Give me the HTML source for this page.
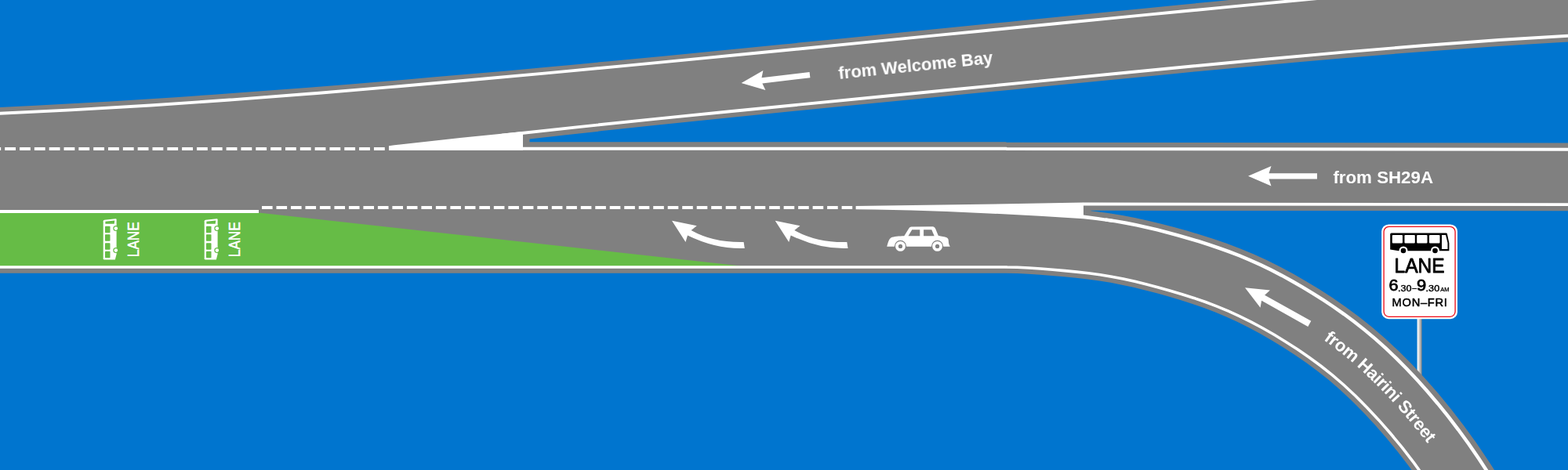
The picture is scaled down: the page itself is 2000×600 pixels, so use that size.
<!DOCTYPE html>
<html lang="en">
<head>
<meta charset="utf-8">
<title>Bus lane merge diagram</title>
<style>
html,body{margin:0;padding:0;background:#0075cf;}
body{width:2000px;height:600px;overflow:hidden;}
svg{display:block;}
</style>
</head>
<body>
<svg width="2000" height="600" viewBox="0 0 2000 600">
<rect x="0" y="0" width="2000" height="600" fill="#0075cf"/>
<path d="M-10 137.42C23.67 135.85 57.33 134.12 91 132.24C124.67 130.35 158.33 128.33 192 126.17C225.67 124.01 259.33 121.71 293 119.3C326.67 116.89 360.33 114.36 394 111.73C427.67 109.1 461.33 106.36 495 103.54C528.67 100.72 562.33 97.81 596 94.82C629.67 91.84 663.33 88.78 697 85.66C730.67 82.55 764.33 79.37 798 76.15C831.67 72.93 865.33 69.67 899 66.38C932.67 63.08 966.33 59.76 1000 56.42C1033.67 53.08 1067.33 49.73 1101 46.38C1134.67 43.03 1168.33 39.68 1202 36.33C1235.67 32.98 1269.33 29.63 1303 26.28C1336.67 22.93 1370.33 19.59 1404 16.24C1437.67 12.9 1471.33 9.56 1505 6.23C1538.67 2.9 1572.33 -0.43 1606 -3.76C1639.67 -7.08 1673.33 -10.4 1707 -13.71C1740.67 -17.02 1774.33 -20.32 1808 -23.62C1841.67 -26.91 1875.33 -30.2 1909 -33.48C1942.67 -36.75 1976.33 -40.02 2010 -43.28L2010 52.82C1975.78 54.7 1941.56 56.82 1907.35 59.14C1873.13 61.46 1838.91 63.98 1804.69 66.66C1770.47 69.35 1736.26 72.19 1702.04 75.16C1667.82 78.13 1633.6 81.23 1599.38 84.41C1565.17 87.59 1530.95 90.86 1496.73 94.19C1462.51 97.51 1428.29 100.88 1394.08 104.26C1359.86 107.65 1325.64 111.04 1291.42 114.41C1257.21 117.79 1222.99 121.14 1188.77 124.49C1154.55 127.85 1120.33 131.2 1086.12 134.58C1051.9 137.96 1017.68 141.35 983.46 144.79C949.24 148.23 915.03 151.72 880.81 155.26C846.59 158.81 812.37 162.41 778.15 166.11C743.94 169.8 709.72 173.57 675.5 177.45V183.3H-10Z" fill="#808080"/>
<path d="M-10 181.3H1283.5V181.75L2010 182.56V269.3L1391.5 268.8V276H1283V348.8H-10Z" fill="#808080"/>
<defs><linearGradient id="pg" x1="0" x2="1" y1="0" y2="0"><stop offset="0" stop-color="#ffffff"/><stop offset="0.25" stop-color="#ececec"/><stop offset="1" stop-color="#858585"/></linearGradient></defs>
<rect x="1807.6" y="400" width="6" height="90" fill="url(#pg)"/>
<path d="M1283 261.6 L1300.09 261.88 L1316.87 262.64 L1333.34 263.74 L1349.51 265.05 L1365.51 266.48 L1381.74 268.09 L1398.22 269.98 L1414.92 272.24 L1431.84 274.99 L1448.71 278.23 L1465.44 281.88 L1482.02 285.91 L1498.47 290.24 L1514.79 294.82 L1531.2 299.71 L1547.8 305 L1564.58 310.81 L1581.52 317.21 L1598.59 324.31 L1615.65 332.12 L1632.59 340.56 L1649.42 349.6 L1666.15 359.21 L1682.79 369.36 L1699.45 380.12 L1716.27 391.69 L1733.21 404.18 L1750.22 417.74 L1767.24 432.45 L1784.13 448.24 L1800.88 465.07 L1817.52 482.93 L1834.08 501.84 L1850.63 521.95 L1867.17 543.38 L1883.67 566.24 L1900.13 590.64 L1916.55 616.69 L1932.9 644.49 L1857.1 687.59 L1842.07 662.04 L1827.1 638.28 L1812.17 616.17 L1797.3 595.56 L1782.45 576.31 L1767.62 558.29 L1752.79 541.36 L1738.04 525.53 L1723.41 510.83 L1708.92 497.28 L1694.55 484.86 L1680.18 473.41 L1665.73 462.74 L1651.16 452.73 L1636.44 443.23 L1621.69 434.22 L1607.04 425.8 L1592.48 417.98 L1578.04 410.79 L1563.71 404.23 L1549.41 398.29 L1534.96 392.82 L1520.36 387.77 L1505.57 383.06 L1490.6 378.6 L1475.53 374.37 L1460.6 370.43 L1445.79 366.84 L1431.13 363.64 L1416.62 360.85 L1402.15 358.5 L1387.48 356.51 L1372.56 354.81 L1357.41 353.3 L1342.03 351.93 L1326.81 350.69 L1311.9 349.7 L1297.29 349.04 L1283 348.8Z" fill="#808080"/>
<polygon points="0,270 330,270 330,271.6 958.3,341 0,341" fill="#66bc46"/>
<g fill="none" stroke="#ffffff" stroke-width="3.9">
<path d="M-10 145.16C23.67 143.8 57.33 142.21 91 140.42C124.67 138.63 158.33 136.63 192 134.48C225.67 132.32 259.33 130 293 127.54C326.67 125.08 360.33 122.49 394 119.8C427.67 117.1 461.33 114.3 495 111.41C528.67 108.53 562.33 105.56 596 102.54C629.67 99.52 663.33 96.45 697 93.33C730.67 90.2 764.33 87.04 798 83.84C831.67 80.64 865.33 77.4 899 74.15C932.67 70.89 966.33 67.6 1000 64.3C1033.67 61.01 1067.33 57.69 1101 54.37C1134.67 51.06 1168.33 47.73 1202 44.42C1235.67 41.1 1269.33 37.78 1303 34.47C1336.67 31.16 1370.33 27.86 1404 24.58C1437.67 21.3 1471.33 18.03 1505 14.79C1538.67 11.54 1572.33 8.32 1606 5.11C1639.67 1.9 1673.33 -1.31 1707 -4.52C1740.67 -7.73 1774.33 -10.95 1808 -14.19C1841.67 -17.43 1875.33 -20.68 1909 -23.97C1942.67 -27.27 1976.33 -30.59 2010 -33.96"/>
<path d="M640 172.79C672.62 169.13 705.24 165.57 737.86 162.09C770.48 158.61 803.1 155.22 835.71 151.88C868.33 148.55 900.95 145.27 933.57 142.02C966.19 138.77 998.81 135.56 1031.43 132.36C1064.05 129.15 1096.67 125.96 1129.29 122.78C1161.9 119.6 1194.52 116.41 1227.14 113.23C1259.76 110.04 1292.38 106.85 1325 103.65C1357.62 100.44 1390.24 97.23 1422.86 94.04C1455.48 90.85 1488.1 87.67 1520.71 84.53C1553.33 81.4 1585.95 78.3 1618.57 75.27C1651.19 72.24 1683.81 69.28 1716.43 66.43C1749.05 63.58 1781.67 60.85 1814.29 58.27C1846.9 55.69 1879.52 53.27 1912.14 51.06C1944.76 48.84 1977.38 46.83 2010 45.06"/>
<path d="M496 189.75H1283.5L1284 189.95L2010 190.75"/>
<path d="M-10 189.9H494" stroke-dasharray="13.8 5.03" stroke-dashoffset="2.63" stroke-width="4"/>
<path d="M-10 270H330" stroke-width="4"/>
<path d="M334 265.1H1088" stroke-dasharray="13.6 4.89" stroke-width="4"/>
<path d="M1381.8 260.5L2010 261.15"/>
<path d="M-10 341H1283L1283 341.05 L1297.54 341.29 L1312.34 341.96 L1327.39 342.97 L1342.7 344.21 L1358.13 345.59 L1373.38 347.1 L1388.43 348.82 L1403.29 350.84 L1417.97 353.22 L1432.7 356.04 L1447.54 359.29 L1462.5 362.92 L1477.57 366.89 L1492.75 371.15 L1507.85 375.65 L1522.79 380.42 L1537.59 385.53 L1552.26 391.08 L1566.81 397.13 L1581.38 403.79 L1596.05 411.1 L1610.8 419.03 L1625.64 427.56 L1640.56 436.66 L1655.45 446.27 L1670.22 456.43 L1684.89 467.25 L1699.5 478.9 L1714.1 491.51 L1728.81 505.26 L1743.63 520.15 L1758.54 536.17 L1773.52 553.28 L1788.51 571.48 L1803.51 590.92 L1818.53 611.73 L1833.59 634.05 L1848.69 658.01 L1863.83 683.76" stroke-width="3.6"/>
<path d="M1409.9 280.36 L1423.22 282.39 L1436.58 284.75 L1449.87 287.4 L1463.09 290.32 L1476.23 293.48 L1489.31 296.84 L1502.32 300.38 L1515.27 304.07 L1528.31 307.97 L1541.44 312.12 L1554.66 316.58 L1567.97 321.38 L1581.36 326.57 L1594.82 332.21 L1608.27 338.3 L1621.65 344.8 L1634.98 351.69 L1648.25 358.97 L1661.48 366.61 L1674.65 374.6 L1687.81 382.94 L1701.05 391.74 L1714.36 401.08 L1727.72 411 L1741.12 421.59 L1754.55 432.9 L1767.93 444.93 L1781.23 457.64 L1794.47 471.02 L1807.64 485.07 L1820.77 499.79 L1833.88 515.22 L1847 531.46 L1860.1 548.55 L1873.19 566.55 L1886.25 585.52 L1899.3 605.51 L1912.31 626.59 L1925.3 648.82" stroke-width="4.4"/>
</g>
<path d="M496 186.3Q580 176 667 167.9V191.7H496Z" fill="#ffffff"/>
<path d="M1091.6 263Q1240 261.3 1382 258.45V274.6Q1402 277.2 1420 279.9V284Q1402 281.3 1382 279.3C1290 273.5 1200 268.5 1091.6 267.3Z" fill="#ffffff"/>
<polygon points="0,0 29.5,-12.7 26.5,-3.6 88,-3.6 88,3.6 26.5,3.6 29.5,12.7" fill="#ffffff" transform="translate(1592 224.8) rotate(0)"/>
<polygon points="0,0 29.5,-12.7 26.5,-3.6 88,-3.6 88,3.6 26.5,3.6 29.5,12.7" fill="#ffffff" transform="translate(945.6 106) rotate(-6.8)"/>
<polygon points="0,0 29.5,-12.7 26.5,-4.1 94.3,-4.1 94.3,4.1 26.5,4.1 29.5,12.7" fill="#ffffff" transform="translate(1588 367.3) rotate(29.2)"/>
<path d="M857 281.7L888.8 288.2L881.6 294Q910 310 948.6 309L949.8 317Q914 318.5 877 300.5L874.5 309Z" fill="#ffffff"/>
<path d="M857 281.7L888.8 288.2L881.6 294Q910 310 948.6 309L949.8 317Q914 318.5 877 300.5L874.5 309Z" fill="#ffffff" transform="translate(131.7 0)"/>
<g font-family="'Liberation Sans',Arial,Helvetica,sans-serif" font-weight="bold" font-size="22.3" fill="#ffffff" opacity="0.999">
<text x="1070.3" y="101.3" font-size="22" transform="rotate(-5.85 1070.3 101.3)">from Welcome Bay</text>
<text x="1700.4" y="234">from SH29A</text>
<path id="hp" d="M1600 372.97 L1610 377.96 L1620 383.2 L1630 388.69 L1640 394.41 L1650 400.36 L1660 406.53 L1670 412.93 L1680 419.57 L1690 426.5 L1700 433.75 L1710 441.35 L1720 449.34 L1730 457.74 L1740 466.6 L1750 475.91 L1760 485.66 L1770 495.86 L1780 506.49 L1790 517.57 L1800 529.07 L1810 541.04 L1820 553.51 L1830 566.5 L1840 580.05 L1850 594.19 L1860 608.96 L1870 624.39 L1880 640.5 L1890 657.34" fill="none"/>
<text dy="7" letter-spacing="-0.24"><textPath href="#hp" startOffset="107.5">from Hairini Street</textPath></text>
</g>
<g transform="translate(1120 280)">
<path d="M11.25 34.7C12.5 31 13 26 16.5 23.4C20 21.8 27 21.5 33.3 21.25L39.2 11.7C40.3 10 41 9.6 42.5 9.5L69.6 9.3C71.5 9.4 72.6 10.5 73.4 12.5L76.8 20.8C81 21.8 85 22.4 87.5 23.3C89.8 24.2 89.8 26.5 90 29.5C90.3 32 91 33 91.8 34.8Z" fill="#ffffff"/>
<polygon points="43.3,13.3 53.3,13.3 53.3,21.25 38.5,21.25" fill="#808080"/>
<polygon points="58.1,13.3 68.3,13.3 71.7,21.25 58.1,21.25" fill="#808080"/>
<circle cx="28.5" cy="34.4" r="7.6" fill="#808080"/><circle cx="75.6" cy="34.4" r="7.6" fill="#808080"/>
<circle cx="28.5" cy="34.4" r="6.4" fill="#ffffff"/><circle cx="75.6" cy="34.4" r="6.4" fill="#ffffff"/>
<circle cx="28.5" cy="34.4" r="2.6" fill="#808080"/><circle cx="75.6" cy="34.4" r="2.6" fill="#808080"/>
</g>
<g transform="translate(120 270)"><path d="M11.7 12.3Q11.7 10.9 13.2 10.7L27.6 9.2Q28.6 9.2 28.6 10.3V54.5L26.8 61.6H13.2Q11.7 61.6 11.7 60.2Z" fill="#ffffff"/><polygon points="14.4,12.7 26.3,11.6 25.7,15.8 14.4,15.8" fill="#66bc46"/><rect x="14" y="18.7" width="6.5" height="8.6" rx="0.8" fill="#66bc46"/><rect x="14" y="29.2" width="6.5" height="8.6" rx="0.8" fill="#66bc46"/><rect x="14" y="40.2" width="6.5" height="8.6" rx="0.8" fill="#66bc46"/><rect x="14" y="50.7" width="6.5" height="8.6" rx="0.8" fill="#66bc46"/><circle cx="27.8" cy="21.6" r="3.5" fill="#66bc46"/><circle cx="27.8" cy="21.6" r="2.3" fill="#ffffff"/><circle cx="27.8" cy="49.6" r="3.5" fill="#66bc46"/><circle cx="27.8" cy="49.6" r="2.3" fill="#ffffff"/><g opacity="0.999"><text transform="translate(57.1 58.2) rotate(-90)" font-family="'Liberation Sans',Arial,sans-serif" font-size="20.4" fill="#ffffff" stroke="#ffffff" stroke-width="0.55" textLength="45" lengthAdjust="spacingAndGlyphs">LANE</text></g></g>
<g transform="translate(249 270)"><path d="M11.7 12.3Q11.7 10.9 13.2 10.7L27.6 9.2Q28.6 9.2 28.6 10.3V54.5L26.8 61.6H13.2Q11.7 61.6 11.7 60.2Z" fill="#ffffff"/><polygon points="14.4,12.7 26.3,11.6 25.7,15.8 14.4,15.8" fill="#66bc46"/><rect x="14" y="18.7" width="6.5" height="8.6" rx="0.8" fill="#66bc46"/><rect x="14" y="29.2" width="6.5" height="8.6" rx="0.8" fill="#66bc46"/><rect x="14" y="40.2" width="6.5" height="8.6" rx="0.8" fill="#66bc46"/><rect x="14" y="50.7" width="6.5" height="8.6" rx="0.8" fill="#66bc46"/><circle cx="27.8" cy="21.6" r="3.5" fill="#66bc46"/><circle cx="27.8" cy="21.6" r="2.3" fill="#ffffff"/><circle cx="27.8" cy="49.6" r="3.5" fill="#66bc46"/><circle cx="27.8" cy="49.6" r="2.3" fill="#ffffff"/><g opacity="0.999"><text transform="translate(57.1 58.2) rotate(-90)" font-family="'Liberation Sans',Arial,sans-serif" font-size="20.4" fill="#ffffff" stroke="#ffffff" stroke-width="0.55" textLength="45" lengthAdjust="spacingAndGlyphs">LANE</text></g></g>
<rect x="1762.2" y="286.4" width="96.8" height="120.8" rx="9" fill="#fff"/>
<rect x="1765.1" y="289.3" width="91" height="115" rx="6.5" fill="none" stroke="#ee0a14" stroke-width="1.3"/>
<g transform="translate(1765 290)">
<path d="M8.2 9Q8.2 7.5 9.7 7.5H79.6Q80.6 7.5 80.9 8.6L83.4 20.5V30.2H68.5A5 5 0 0 0 62.5 30.2H28A5 5 0 0 0 22 30.2H19L8.2 28.5Z" fill="#000"/>
<rect x="10.8" y="10" width="13.2" height="10.5" rx="1" fill="#fff"/>
<rect x="26.5" y="10" width="13.3" height="10.5" rx="1" fill="#fff"/>
<rect x="42.2" y="10" width="13.3" height="10.5" rx="1" fill="#fff"/>
<rect x="58" y="10" width="13.5" height="10.5" rx="1" fill="#fff"/>
<polygon points="74,10 79,10 81.5,20 81.5,28 74,28" fill="#fff"/>
<circle cx="25" cy="30" r="5.5" fill="#fff"/><circle cx="65.5" cy="30" r="5.5" fill="#fff"/>
<circle cx="25" cy="30" r="3.3" fill="#000"/><circle cx="65.5" cy="30" r="3.3" fill="#000"/>
</g>
<g font-family="'Liberation Sans',Arial,Helvetica,sans-serif" fill="#000" stroke="#000" stroke-linejoin="round" opacity="0.999">
<text x="1778.6" y="347.7" font-size="26.6" stroke-width="0.9" textLength="64" lengthAdjust="spacingAndGlyphs">LANE</text>
<text x="1771.6" y="371.3" font-size="20" stroke-width="0.8" textLength="12" lengthAdjust="spacingAndGlyphs">6</text>
<text x="1783" y="371.6" font-size="10.5" stroke-width="0.4" textLength="17.6" lengthAdjust="spacingAndGlyphs">.30</text>
<text x="1801.4" y="371.4" font-size="9.3" stroke-width="0.6" textLength="5.4" lengthAdjust="spacingAndGlyphs">–</text>
<text x="1807" y="371.3" font-size="20" stroke-width="0.8" textLength="12.2" lengthAdjust="spacingAndGlyphs">9</text>
<text x="1818.6" y="371.6" font-size="10.5" stroke-width="0.4" textLength="17.6" lengthAdjust="spacingAndGlyphs">.30</text>
<text x="1837.2" y="371.6" font-size="8.1" stroke-width="0.3" textLength="11.3" lengthAdjust="spacingAndGlyphs">AM</text>
<text x="1775.6" y="391" font-size="14.7" stroke-width="0.5" textLength="70.3" lengthAdjust="spacing">MON–FRI</text>
</g>
</svg>
</body>
</html>
